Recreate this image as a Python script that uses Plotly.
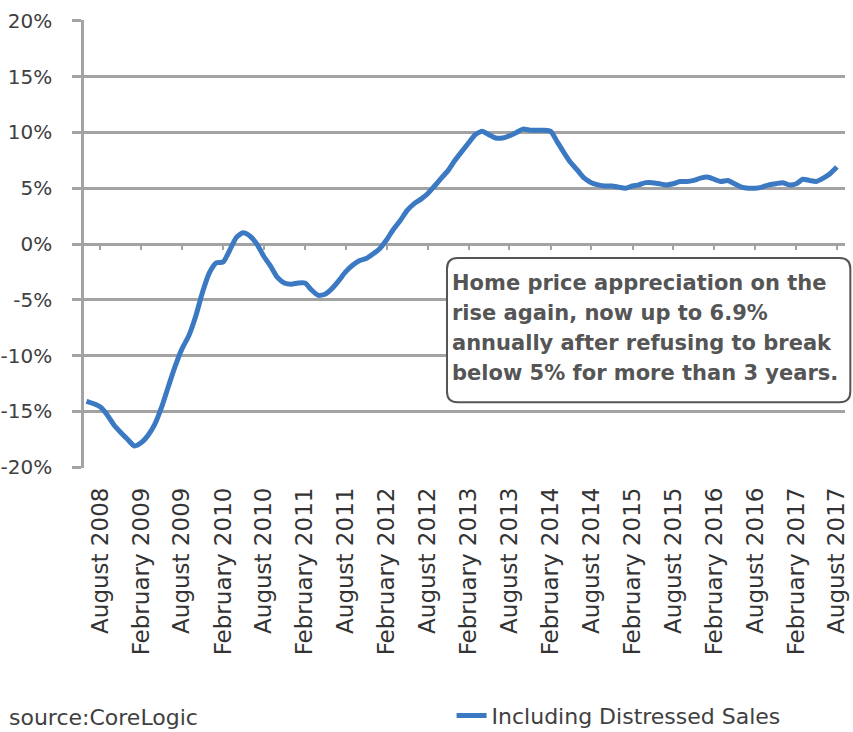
import plotly.graph_objects as go
import pandas as pd

# ---- data ----
months = pd.date_range("2008-06-01", periods=111, freq="MS")
hpi_incl_distressed = [
    -14.1, -14.3, -14.6, -15.3, -16.2, -16.9, -17.5, -18.1,
    -17.8, -17.2, -16.2, -14.7, -12.8, -11.0, -9.4, -8.2, -6.5, -4.3, -2.6, -1.7,
    -1.6, -0.6, 0.6, 1.0, 0.7, 0.0, -1.1, -2.0, -3.0, -3.5, -3.6, -3.5,
    -3.5, -4.1, -4.6, -4.5, -4.0, -3.3, -2.5, -1.9, -1.5, -1.3, -0.9, -0.4,
    0.4, 1.3, 2.1, 3.0, 3.6, 4.0, 4.5, 5.2, 5.9, 6.6, 7.5, 8.3,
    9.1, 9.8, 10.1, 9.8, 9.5, 9.5, 9.7, 10.0, 10.3, 10.2, 10.2, 10.2,
    10.1, 9.2, 8.2, 7.3, 6.6, 5.9, 5.5, 5.3, 5.2, 5.2, 5.1, 5.0,
    5.2, 5.3, 5.5, 5.5, 5.4, 5.3, 5.4, 5.6, 5.6, 5.7, 5.9, 6.0,
    5.8, 5.6, 5.7, 5.4, 5.1, 5.0, 5.0, 5.1, 5.3, 5.4, 5.5, 5.3,
    5.4, 5.8, 5.7, 5.6, 5.9, 6.3, 6.9,
]
tick_dates = pd.date_range("2008-08-01", "2017-08-01", freq="6MS")
tick_labels = [d.strftime("%B %Y") for d in tick_dates]
y_ticks = [-20, -15, -10, -5, 0, 5, 10, 15, 20]
y_labels = [f"{v}%" for v in y_ticks]
series_name = "Including Distressed Sales"
source_text = "source:CoreLogic"
note_lines = [
    "Home price appreciation on the",
    "rise again, now up to 6.9%",
    "annually after refusing to break",
    "below 5% for more than 3 years.",
]

GRID = "#a3a3a3"
LINE = "#3b79c3"
TXT = "#404040"
FONT = "DejaVu Sans"

x_range = ["2008-05-21", "2017-09-06"]

fig = go.Figure()
fig.add_trace(go.Scatter(
    x=months, y=hpi_incl_distressed, mode="lines", name=series_name,
    line=dict(color=LINE, width=5, shape="spline", smoothing=0.6),
))
# empty trace to host the tick-mark axis that crosses at 0%
fig.add_trace(go.Scatter(x=[], y=[], xaxis="x2", showlegend=False, hoverinfo="skip"))

fig.update_layout(
    width=853, height=732,
    margin=dict(l=84, r=8, t=20, b=264, autoexpand=False),
    paper_bgcolor="white", plot_bgcolor="white",
    font=dict(family=FONT, color=TXT),
    xaxis=dict(
        type="date", range=x_range, tickvals=list(tick_dates), ticktext=tick_labels,
        tickangle=-90, tickfont=dict(size=23, color="#333333", family=FONT),
        showgrid=False, zeroline=False, showline=False, ticks="",
        ticklabelstandoff=14, automargin=False,
    ),
    xaxis2=dict(
        type="date", range=x_range, tickvals=list(tick_dates), overlaying="x",
        anchor="free", position=0.5, side="bottom",
        ticks="outside", ticklen=5, tickwidth=2, tickcolor=GRID,
        showticklabels=False, showgrid=False, zeroline=False, showline=False,
        automargin=False,
    ),
    yaxis=dict(
        range=[-20.08, 20.08], tickvals=y_ticks, ticktext=y_labels,
        tickfont=dict(size=20, color=TXT, family=FONT),
        showgrid=True, gridcolor=GRID, gridwidth=2.5,
        zeroline=False, showline=True, linecolor=GRID, linewidth=2.5,
        ticks="outside", ticklen=9, tickwidth=2.5, tickcolor=GRID,
        ticklabelstandoff=16, automargin=False,
    ),
    legend=dict(
        orientation="h", x=0.483, y=-0.553, xanchor="left", yanchor="middle",
        font=dict(size=22, color=TXT, family=FONT), bgcolor="rgba(0,0,0,0)",
    ),
    showlegend=True,
)

fig.add_annotation(
    text=source_text, xref="paper", yref="paper", x=-0.101, y=-0.556,
    xanchor="left", yanchor="middle", showarrow=False,
    font=dict(size=22, color=TXT, family=FONT),
)

# rounded callout box (paper coords)
x0, x1, y0, y1 = 0.477, 1.007, 0.147, 0.469
rx, ry = 0.014, 0.024
path = (f"M {x0+rx},{y1} L {x1-rx},{y1} Q {x1},{y1} {x1},{y1-ry} "
        f"L {x1},{y0+ry} Q {x1},{y0} {x1-rx},{y0} L {x0+rx},{y0} "
        f"Q {x0},{y0} {x0},{y0+ry} L {x0},{y1-ry} Q {x0},{y1} {x0+rx},{y1} Z")
fig.add_shape(type="path", path=path, xref="paper", yref="paper",
              line=dict(color="#555555", width=2), fillcolor="white", layer="above")

line_y = [0.413, 0.346, 0.279, 0.212]
for txt, yy in zip(note_lines, line_y):
    fig.add_annotation(
        text=f"<b>{txt}</b>", xref="paper", yref="paper", x=0.481, y=yy,
        xanchor="left", yanchor="middle", showarrow=False,
        font=dict(size=21, color="#555555", family=FONT),
    )

fig.write_html(
    "out.html",
    config={"displayModeBar": False},
    post_script="document.body.style.margin='0';document.body.style.overflow='hidden';",
)
